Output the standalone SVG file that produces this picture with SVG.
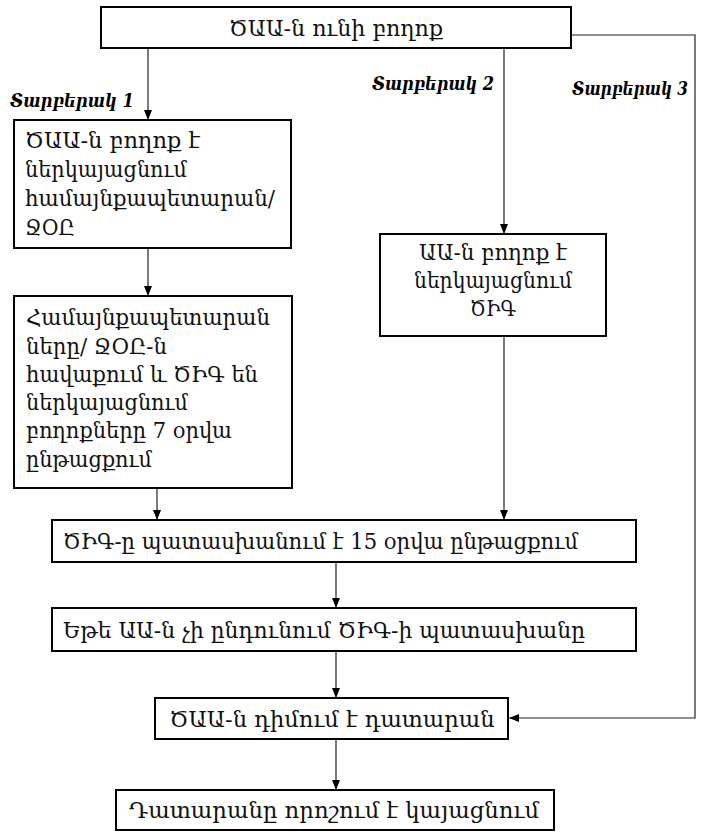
<svg xmlns="http://www.w3.org/2000/svg" width="704" height="832" viewBox="0 0 704 832">
<style>
.box{fill:#fff;stroke:#000;stroke-width:2}
.t{font-family:"DejaVu Serif","Noto Serif",serif;font-size:23px;fill:#111}
.c{text-anchor:middle}
.lab{font-family:"DejaVu Serif","Noto Serif",serif;font-size:19px;font-weight:bold;font-style:italic;fill:#000}
.con{fill:none;stroke:#222;stroke-width:1.2}
</style>
<defs>
<marker id="arr" markerUnits="userSpaceOnUse" markerWidth="10" markerHeight="10" viewBox="0 0 10 10" refX="10" refY="5" orient="auto">
<path d="M0,1 L10,5 L0,9 Z" fill="#000"/>
</marker>
</defs>
<rect width="704" height="832" fill="#fff"/>
<g id="connectors">
<line class="con" x1="148" y1="48" x2="148" y2="120" marker-end="url(#arr)"/>
<line class="con" x1="504" y1="48" x2="504" y2="234" marker-end="url(#arr)"/>
<path class="con" d="M571,35 H695 V718 H509" stroke="#555" marker-end="url(#arr)"/>
<line class="con" x1="148" y1="248" x2="148" y2="296" marker-end="url(#arr)"/>
<line class="con" x1="157" y1="488" x2="157" y2="520" marker-end="url(#arr)"/>
<line class="con" x1="504" y1="336" x2="504" y2="520" marker-end="url(#arr)"/>
<line class="con" x1="336" y1="562" x2="336" y2="608" marker-end="url(#arr)"/>
<line class="con" x1="336" y1="651" x2="336" y2="698" marker-end="url(#arr)"/>
<line class="con" x1="336" y1="739" x2="336" y2="790" marker-end="url(#arr)"/>
</g>
<g id="labels">
<text class="lab" x="10" y="107" textLength="124" lengthAdjust="spacingAndGlyphs">Տարբերակ 1</text>
<text class="lab" x="372" y="90" textLength="122" lengthAdjust="spacingAndGlyphs">Տարբերակ 2</text>
<text class="lab" x="572" y="95" font-size="17" textLength="116" lengthAdjust="spacingAndGlyphs">Տարբերակ 3</text>
</g>
<g id="n-start">
<rect class="box" x="101" y="7" width="470" height="41"/>
<text class="t c" x="336" y="36" font-size="25" textLength="214" lengthAdjust="spacingAndGlyphs">ԾԱԱ-ն ունի բողոք</text>
</g>
<g id="n-opt1">
<rect class="box" x="14" y="120" width="277" height="128"/>
<text class="t" x="25" y="148" textLength="175" lengthAdjust="spacingAndGlyphs">ԾԱԱ-ն բողոք է</text>
<text class="t" x="25" y="177" textLength="162" lengthAdjust="spacingAndGlyphs">ներկայացնում</text>
<text class="t" x="25" y="206" textLength="250" lengthAdjust="spacingAndGlyphs">համայնքապետարան/</text>
<text class="t" x="25" y="235" textLength="50" lengthAdjust="spacingAndGlyphs">ՋՕԸ</text>
</g>
<g id="n-collect">
<rect class="box" x="14" y="296" width="278" height="192"/>
<text class="t" x="26" y="325" textLength="244" lengthAdjust="spacingAndGlyphs">Համայնքապետարան</text>
<text class="t" x="26" y="354" textLength="141" lengthAdjust="spacingAndGlyphs">ները/ ՋՕԸ-ն</text>
<text class="t" x="26" y="382" textLength="232" lengthAdjust="spacingAndGlyphs">հավաքում և ԾԻԳ են</text>
<text class="t" x="26" y="410" textLength="162" lengthAdjust="spacingAndGlyphs">ներկայացնում</text>
<text class="t" x="26" y="438" textLength="206" lengthAdjust="spacingAndGlyphs">բողոքները  7 օրվա</text>
<text class="t" x="26" y="467" textLength="126" lengthAdjust="spacingAndGlyphs">ընթացքում</text>
</g>
<g id="n-opt2">
<rect class="box" x="380" y="234" width="226" height="102"/>
<text class="t c" x="493" y="260" textLength="148" lengthAdjust="spacingAndGlyphs">ԱԱ-ն բողոք է</text>
<text class="t c" x="493" y="288" textLength="158" lengthAdjust="spacingAndGlyphs">ներկայացնում</text>
<text class="t c" x="493" y="316" textLength="46" lengthAdjust="spacingAndGlyphs">ԾԻԳ</text>
</g>
<g id="n-piu">
<rect class="box" x="52" y="520" width="584" height="42"/>
<text class="t" x="63" y="549" font-size="24" textLength="515" lengthAdjust="spacingAndGlyphs">ԾԻԳ-ը պատասխանում է 15 օրվա ընթացքում</text>
</g>
<g id="n-reject">
<rect class="box" x="52" y="608" width="584" height="43"/>
<text class="t" x="63" y="638" font-size="24" textLength="522" lengthAdjust="spacingAndGlyphs">Եթե ԱԱ-ն չի ընդունում  ԾԻԳ-ի պատասխանը</text>
</g>
<g id="n-court">
<rect class="box" x="155" y="698" width="353" height="41"/>
<text class="t c" x="332" y="727" font-size="24" textLength="325" lengthAdjust="spacingAndGlyphs">ԾԱԱ-ն դիմում է դատարան</text>
</g>
<g id="n-decision">
<rect class="box" x="116" y="790" width="438" height="40"/>
<text class="t c" x="334" y="818" font-size="24" textLength="410" lengthAdjust="spacingAndGlyphs">Դատարանը որոշում է կայացնում</text>
</g>
</svg>
